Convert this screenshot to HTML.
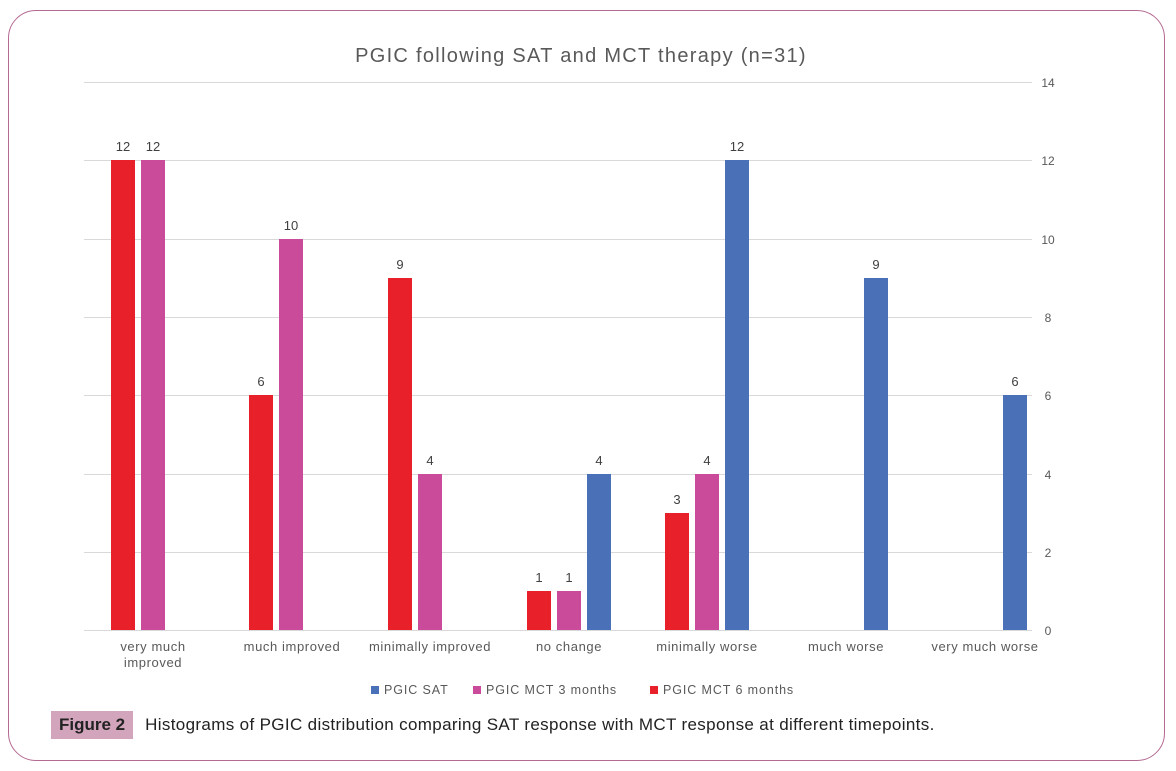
<!DOCTYPE html>
<html><head><meta charset="utf-8"><style>
body{margin:0;background:#fff;width:1176px;height:771px;overflow:hidden;font-family:"Liberation Sans",sans-serif}
.frame{position:absolute;left:8px;top:10px;width:1157px;height:751px;border:1px solid #b46a92;border-radius:28px;box-sizing:border-box}
.cap{position:absolute;left:51px;top:711px;height:28px;line-height:28px;font-size:17px;letter-spacing:0.35px;color:#222;white-space:nowrap}
.cap b{display:inline-block;background:#d3a5bd;padding:0 8px;margin-right:12px;letter-spacing:0}
</style></head><body>
<div class="frame"></div>
<svg width="1176" height="771" style="position:absolute;left:0;top:0" font-family="Liberation Sans, sans-serif">
<text x="581" y="62" text-anchor="middle" font-size="20" letter-spacing="1.3" fill="#595959">PGIC  following SAT and MCT therapy (n=31)</text>
<g stroke="#d9d9d9" stroke-width="1">
<line x1="84" x2="1032" y1="82.5" y2="82.5"/><line x1="84" x2="1032" y1="160.5" y2="160.5"/>
<line x1="84" x2="1032" y1="239.5" y2="239.5"/><line x1="84" x2="1032" y1="317.5" y2="317.5"/>
<line x1="84" x2="1032" y1="395.5" y2="395.5"/><line x1="84" x2="1032" y1="474.5" y2="474.5"/>
<line x1="84" x2="1032" y1="552.5" y2="552.5"/><line x1="84" x2="1032" y1="630.5" y2="630.5"/>
</g>
<g font-size="12" fill="#595959" text-anchor="middle">
<text x="1048" y="87">14</text><text x="1048" y="165">12</text><text x="1048" y="244">10</text><text x="1048" y="322">8</text><text x="1048" y="400">6</text><text x="1048" y="479">4</text><text x="1048" y="557">2</text><text x="1048" y="635">0</text>
</g>
<g>
<rect x="111" y="160" width="24" height="470" fill="#e8202a"/><rect x="141" y="160" width="24" height="470" fill="#cb4b9b"/>
<rect x="249" y="395" width="24" height="235" fill="#e8202a"/><rect x="279" y="239" width="24" height="391" fill="#cb4b9b"/>
<rect x="388" y="278" width="24" height="352" fill="#e8202a"/><rect x="418" y="474" width="24" height="156" fill="#cb4b9b"/>
<rect x="527" y="591" width="24" height="39" fill="#e8202a"/><rect x="557" y="591" width="24" height="39" fill="#cb4b9b"/><rect x="587" y="474" width="24" height="156" fill="#4a70b7"/>
<rect x="665" y="513" width="24" height="117" fill="#e8202a"/><rect x="695" y="474" width="24" height="156" fill="#cb4b9b"/><rect x="725" y="160" width="24" height="470" fill="#4a70b7"/>
<rect x="864" y="278" width="24" height="352" fill="#4a70b7"/>
<rect x="1003" y="395" width="24" height="235" fill="#4a70b7"/>
</g>
<g font-size="13" fill="#404040" text-anchor="middle">
<text x="123" y="151">12</text><text x="153" y="151">12</text>
<text x="261" y="386">6</text><text x="291" y="230">10</text>
<text x="400" y="269">9</text><text x="430" y="465">4</text>
<text x="539" y="582">1</text><text x="569" y="582">1</text><text x="599" y="465">4</text>
<text x="677" y="504">3</text><text x="707" y="465">4</text><text x="737" y="151">12</text>
<text x="876" y="269">9</text><text x="1015" y="386">6</text>
</g>
<g font-size="13" fill="#595959" text-anchor="middle" letter-spacing="0.6">
<text x="153" y="651">very much</text><text x="153" y="667">improved</text>
<text x="292" y="651">much improved</text>
<text x="430" y="651">minimally improved</text>
<text x="569" y="651">no change</text>
<text x="707" y="651">minimally worse</text>
<text x="846" y="651">much worse</text>
<text x="985" y="651">very much worse</text>
</g>
<g font-size="12.5" fill="#595959" letter-spacing="0.9">
<rect x="371" y="686" width="8" height="8" fill="#4a70b7"/><text x="384" y="694">PGIC SAT</text>
<rect x="473" y="686" width="8" height="8" fill="#cb4b9b"/><text x="486" y="694">PGIC MCT 3 months</text>
<rect x="650" y="686" width="8" height="8" fill="#e8202a"/><text x="663" y="694">PGIC MCT 6 months</text>
</g>
</svg>
<div class="cap"><b>Figure 2</b>Histograms of PGIC distribution comparing SAT response with MCT response at different timepoints.</div>
</body></html>
